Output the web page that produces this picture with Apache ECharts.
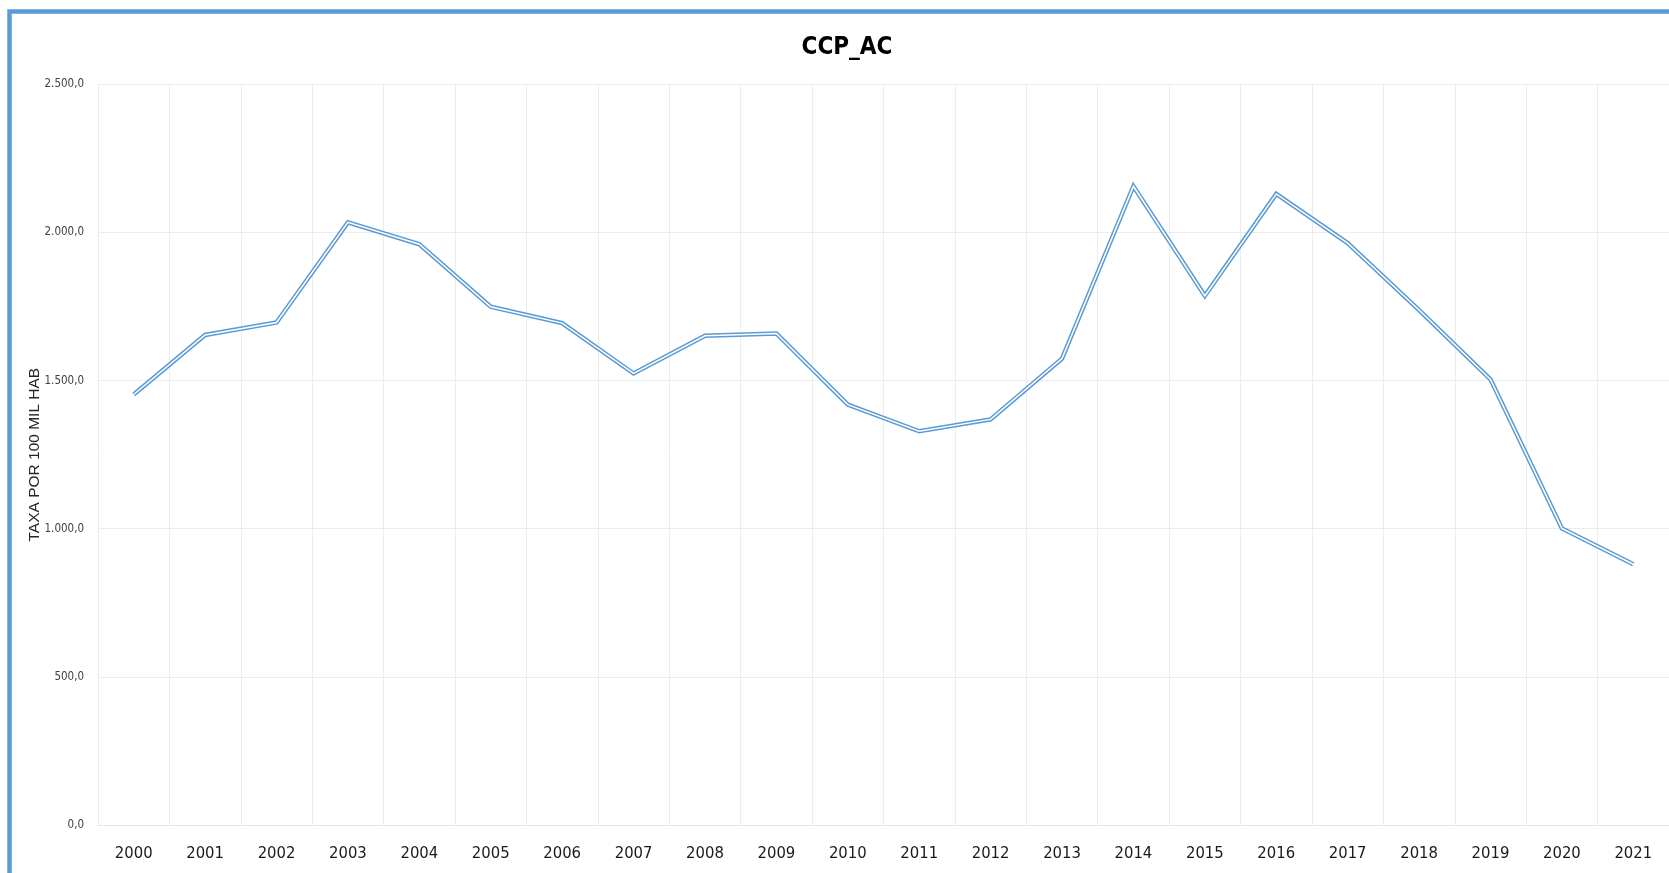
<!DOCTYPE html>
<html>
<head>
<meta charset="utf-8">
<script src="https://cdn.jsdelivr.net/npm/echarts@6/dist/echarts.min.js"></script>
<style>
html,body{margin:0;padding:0;background:#fff;}
#chart{width:1669px;height:873px;}
</style>
</head>
<body>
<div id="chart"></div>
<script>
const titleText = 'CCP_AC';
const yAxisName = 'TAXA POR 100 MIL HAB';
const years = ['2000','2001','2002','2003','2004','2005','2006','2007','2008','2009','2010',
               '2011','2012','2013','2014','2015','2016','2017','2018','2019','2020','2021'];
const rates = [1453, 1654, 1696, 2034, 1960, 1749, 1694, 1524, 1651, 1659, 1419,
               1329, 1369, 1574, 2156, 1786, 2130, 1964, 1738, 1504, 1001, 880];
const yTicks = [0, 500, 1000, 1500, 2000, 2500];

const narrow = '"Liberation Sans Narrow","DejaVu Sans Condensed","Liberation Sans",sans-serif';

function fmtBR(v){
  const s = Math.round(v).toString().replace(/\B(?=(\d{3})+(?!\d))/g, '.');
  return s + ',0';
}

const chart = echarts.init(document.getElementById('chart'), null, {renderer:'canvas'});
chart.setOption({
  animation: false,
  backgroundColor: '#ffffff',
  title: {
    text: titleText,
    left: 842, top: 31, textAlign: 'center',
    textStyle: {fontFamily: narrow, fontWeight: 'bold', fontSize: 24, color: '#000000'}
  },
  graphic: [{
    type: 'rect', silent: true, z: 100,
    shape: {x: 9.5, y: 11.5, width: 3000, height: 3000},
    style: {fill: 'none', stroke: '#5b9bd5', lineWidth: 4.5}
  }],
  grid: {left: 98, top: 84.3, width: 1572, height: 740.7, containLabel: false},
  xAxis: {
    type: 'category',
    data: years,
    boundaryGap: true,
    axisLine: {show: true, lineStyle: {color: '#e6e6e6', width: 1}},
    axisTick: {show: false},
    splitLine: {show: true, lineStyle: {color: '#ececec', width: 1}},
    axisLabel: {fontFamily: narrow, fontSize: 16.5, color: '#1a1a1a', margin: 20, interval: 0}
  },
  yAxis: {
    type: 'value',
    min: yTicks[0], max: yTicks[yTicks.length-1], interval: yTicks[1]-yTicks[0],
    name: yAxisName,
    nameLocation: 'middle',
    nameGap: 55,
    nameMoveOverlap: false,
    nameRotate: 90,
    nameTextStyle: {fontFamily: '"Liberation Sans",Arial,sans-serif', fontSize: 15.5, color: '#262626'},
    axisLine: {show: false},
    axisTick: {show: false},
    splitLine: {show: true, lineStyle: {color: '#ececec', width: 1}},
    axisLabel: {fontFamily: narrow, fontSize: 11.5, color: '#404040', margin: 14, formatter: fmtBR}
  },
  series: [{
    type: 'line', data: rates, symbol: 'none', z: 3,
    lineStyle: {color: '#5b9bd5', width: 4.5, join: 'miter'}
  },{
    type: 'line', data: rates, symbol: 'none', z: 4,
    lineStyle: {color: '#ffffff', width: 1.5, join: 'miter'}
  }]
});
</script>
</body>
</html>
